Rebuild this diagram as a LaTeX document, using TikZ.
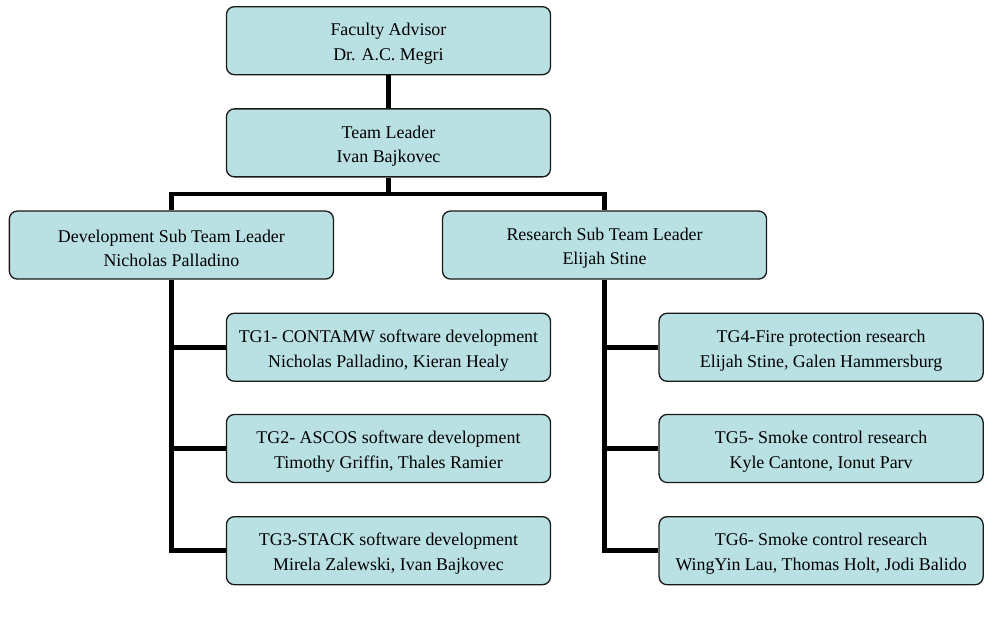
\documentclass[tikz,border=0pt]{standalone}
\usepackage{fontspec}
\setmainfont{Liberation Serif}
\definecolor{boxfill}{RGB}{185,224,227}
\definecolor{boxline}{RGB}{25,25,25}
\newcommand\orgstrut{\rule{0pt}{19pt}}
\begin{document}
\begin{tikzpicture}[x=0.982pt,y=-0.946pt,
  orgbox/.style={draw=boxline, fill=boxfill, line width=1.3pt, rounded corners=8pt,
    minimum width=324pt, minimum height=68pt, align=center, inner sep=0pt,
    font=\fontsize{17.9}{24.6}\selectfont},
  conn/.style={line width=4.6pt, black}]
\useasboundingbox (0,0) rectangle (1011,653);
\node[orgbox] (fa) at (395.5,43) {\orgstrut Faculty Advisor\\Dr. A.C. Megri};
\node[orgbox] (tl) at (395.5,151) {\orgstrut Team Leader\\Ivan Bajkovec};
\node[orgbox] (dev) at (174.5,259) {\orgstrut Development Sub Team Leader\\Nicholas Palladino};
\node[orgbox] (res) at (615.5,259) {\orgstrut Research Sub Team Leader\\Elijah Stine};
\node[orgbox] (tg1) at (395.5,367) {\orgstrut TG1- CONTAMW software development\\Nicholas Palladino, Kieran Healy};
\node[orgbox] (tg2) at (395.5,474) {\orgstrut TG2- ASCOS software development\\Timothy Griffin, Thales Ramier};
\node[orgbox] (tg3) at (395.5,582) {\orgstrut TG3-STACK software development\\Mirela Zalewski, Ivan Bajkovec};
\node[orgbox] (tg4) at (836,367) {\orgstrut TG4-Fire protection research\\Elijah Stine, Galen Hammersburg};
\node[orgbox] (tg5) at (836,474) {\orgstrut TG5- Smoke control research\\Kyle Cantone, Ionut Parv};
\node[orgbox] (tg6) at (836,582) {\orgstrut TG6- Smoke control research\\WingYin Lau, Thomas Holt, Jodi Balido};
\coordinate (bus) at (395.5,205);
\draw[conn] (fa.south) -- (tl.north);
\draw[conn] (tl.south) -- (bus);
\draw[conn] (dev.north) |- (bus) -| (res.north);
\draw[conn] (dev.south) |- (tg3.west);
\draw[conn] (dev.south |- tg1.west) -- (tg1.west);
\draw[conn] (dev.south |- tg2.west) -- (tg2.west);
\draw[conn] (res.south) |- (tg6.west);
\draw[conn] (res.south |- tg4.west) -- (tg4.west);
\draw[conn] (res.south |- tg5.west) -- (tg5.west);
\end{tikzpicture}
\end{document}
